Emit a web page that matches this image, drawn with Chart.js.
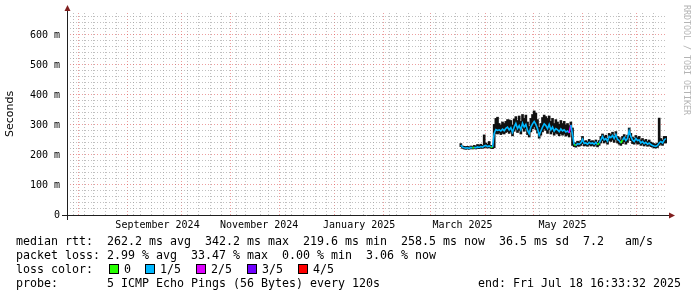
<!DOCTYPE html>
<html><head><meta charset="utf-8">
<script src="https://cdn.jsdelivr.net/npm/chart.js@4.4.1/dist/chart.umd.min.js"></script>
<style>
html,body{margin:0;padding:0;background:#fff;}
#wrap{position:relative;width:697px;height:297px;overflow:hidden;background:#fff;}
#c{position:absolute;left:0;top:0;}
.lg{position:absolute;left:16px;font-family:'DejaVu Sans Mono',monospace;font-size:11.63px;line-height:14px;height:14px;white-space:pre;color:#000;}
.box{position:absolute;width:8px;height:8px;border:1px solid #000;}
.bl{position:absolute;font-family:'DejaVu Sans Mono',monospace;font-size:11.63px;line-height:14px;white-space:pre;color:#000;}
#wm{position:absolute;left:682px;top:5px;writing-mode:vertical-rl;font-family:'DejaVu Sans Mono',monospace;font-size:8.3px;line-height:10px;color:#b4b4b4;white-space:pre;}
</style></head>
<body>
<div id="wrap">
<canvas id="c" width="697" height="297"></canvas>
<div class="lg" style="top:234px">median rtt:  262.2 ms avg  342.2 ms max  219.6 ms min  258.5 ms now  36.5 ms sd  7.2   am/s</div>
<div class="lg" style="top:248px">packet loss: 2.99 % avg  33.47 % max  0.00 % min  3.06 % now</div>
<div class="lg" style="top:262px">loss color:</div>
<div class="lg" style="top:276px">probe:       5 ICMP Echo Pings (56 Bytes) every 120s</div>
<div class="lg" style="top:276px;left:478px">end: Fri Jul 18 16:33:32 2025</div>
<div id="wm">RRDTOOL / TOBI OETIKER</div>
</div>
<script>
// ---- data (one sample per day, starting at dataStart) ----
const dataStart = '2025-03-17';
const medianRtt = [
 233,226,224,223,224,222,225,223,226,224,227,225,228,226,230,232,228,230,227,226,
 272,285,282,284,280,286,281,289,293,284,291,276,293,305,288,298,284,306,293,302,
 282,271,293,304,312,302,288,266,280,293,304,298,288,302,284,293,280,288,284,278,
 287,280,284,277,280,274,300,268,
 235,232,238,236,240,252,238,240,236,242,238,240,236,242,234,240,250,262,250,255,
 246,262,258,265,255,268,252,248,240,250,258,248,255,280,262,250,245,255,248,250,
 240,245,238,242,236,240,235,232,230,229,232,240,245,240,250,255
];
const smokeMin = [
 228,222,220,219,220,219,221,220,222,220,222,221,223,222,224,226,223,225,222,221,
 224,272,270,273,268,272,270,275,278,272,277,264,279,286,275,282,270,289,279,287,
 268,260,277,287,294,285,273,256,266,277,287,282,272,285,270,277,266,273,270,264,
 271,266,270,263,266,260,277,232,
 228,226,230,229,232,238,230,232,229,234,230,232,229,234,227,232,240,248,240,244,
 236,248,245,250,242,252,240,236,232,238,244,236,242,258,248,238,236,242,236,238,
 232,236,230,234,229,232,228,226,224,223,225,232,236,232,240,240
];
const smokeMax = [
 238,230,229,228,229,227,230,228,232,230,235,233,236,232,267,240,236,245,232,231,
 302,322,326,305,300,310,305,312,318,317,315,300,320,328,315,330,312,335,322,333,
 310,295,322,335,347,340,318,292,305,325,333,328,322,330,312,322,305,318,310,302,
 315,305,312,300,305,298,310,290,
 242,240,246,244,248,262,246,248,244,252,246,248,244,250,242,248,262,270,262,266,
 256,272,268,276,265,278,262,258,250,262,268,258,266,290,272,260,255,265,258,262,
 250,255,248,252,245,250,243,240,238,236,240,323,255,250,262,262
];
const lossLevel = [
 1,1,1,1,1,1,1,0,1,1, 1,1,1,1,1,1,1,1,0,1, 1,1,1,1,1,1,1,1,1,1, 1,1,1,1,1,1,1,1,1,1,
 1,1,1,1,1,1,1,1,1,1, 1,1,1,1,1,1,1,1,1,1, 1,1,1,1,1,2,1,1,0,1, 1,1,1,1,1,1,1,1,1,1,
 1,1,0,1,1,1,1,1,1,1, 1,1,1,1,1,1,0,1,1,1, 1,1,1,1,1,1,1,1,1,1, 1,1,1,1,1,1,1,1,1,1,
 1,1,1,1
];
const lossLabels = ['0','1/5','2/5','3/5','4/5'];
const lossColors = ['#26ff00','#00b8ff','#dd00ff','#7000ff','#ff0000'];
const yMajorTicks = [0,100,200,300,400,500,600];
const yMinorTicks = [20,40,60,80,120,140,160,180,220,240,260,280,320,340,360,380,420,440,460,480,520,540,560,580,620,640,660];
const monthGrid = ['2024-08-01','2024-09-01','2024-10-01','2024-11-01','2024-12-01','2025-01-01','2025-02-01','2025-03-01','2025-04-01','2025-05-01','2025-06-01','2025-07-01'];
const monthLabelAt = ['2024-09-16','2024-11-16','2025-01-15','2025-03-18','2025-05-17'];
const monthLabelTexts = ['September 2024','November 2024','January 2025','March 2025','May 2025'];
const endTime = '2025-07-18T16:33:32Z';
const rangeDays = 360;

// ---- helpers ----
const DAY = 86400000;
const END = Date.parse(endTime);
const START = END - rangeDays * DAY;
const dayOf = ms => (ms - START) / DAY;
const d0 = Date.parse(dataStart + 'T00:00:00Z');

const xTicks = [];
let w = Date.parse('2024-07-29T00:00:00Z');
while (w < END) { xTicks.push({value: dayOf(w), kind: 'minor', text: ''}); w += 7 * DAY; }
monthGrid.forEach(s => xTicks.push({value: dayOf(Date.parse(s + 'T00:00:00Z')), kind: 'major', text: ''}));
monthLabelAt.forEach((s, i) => xTicks.push({value: dayOf(Date.parse(s + 'T00:00:00Z')), kind: 'label', text: monthLabelTexts[i]}));
xTicks.sort((a, b) => a.value - b.value);

const yTicks = yMajorTicks.concat(yMinorTicks).sort((a, b) => a - b);

const smokeData = smokeMin.map((lo, i) => ({x: dayOf(d0 + i * DAY), y: [lo, smokeMax[i]]}));
const medData = medianRtt.map((v, i) => ({x: dayOf(d0 + i * DAY), y: v}));

const boxX = [109, 145, 196, 247, 298];
const wrap = document.getElementById('wrap');
lossLabels.forEach((t, i) => {
  const b = document.createElement('div');
  b.className = 'box'; b.style.left = boxX[i] + 'px'; b.style.top = '264px'; b.style.background = lossColors[i];
  wrap.appendChild(b);
  const l = document.createElement('div');
  l.className = 'bl'; l.style.left = (boxX[i] + 15) + 'px'; l.style.top = '262px'; l.textContent = t;
  wrap.appendChild(l);
});

const GRID = 'rgba(150,150,150,0.6)';
const MGRID = 'rgba(222,79,79,0.55)';

const axesPlugin = {
  id: 'rrdAxes',
  afterDatasetsDraw(chart) {
    const {ctx, chartArea: a} = chart;
    ctx.save();
    ctx.strokeStyle = 'rgb(31,31,31)';
    ctx.lineWidth = 1;
    ctx.beginPath();
    ctx.moveTo(a.left - 5, a.bottom + 0.5); ctx.lineTo(a.right + 4, a.bottom + 0.5);
    ctx.moveTo(a.left + 0.5, a.bottom + 5); ctx.lineTo(a.left + 0.5, a.top - 4);
    ctx.stroke();
    ctx.fillStyle = 'rgb(128,31,31)';
    ctx.beginPath();
    ctx.moveTo(a.right + 2, a.bottom - 3 + 0.5); ctx.lineTo(a.right + 8, a.bottom + 0.5); ctx.lineTo(a.right + 2, a.bottom + 3.5);
    ctx.closePath(); ctx.fill();
    ctx.beginPath();
    ctx.moveTo(a.left - 2.5, a.top - 2); ctx.lineTo(a.left + 0.5, a.top - 8); ctx.lineTo(a.left + 3.5, a.top - 2);
    ctx.closePath(); ctx.fill();
    ctx.restore();
  }
};

new Chart(document.getElementById('c'), {
  type: 'line',
  data: {
    datasets: [
      {type: 'line', data: medData, order: 1, borderWidth: 1.6, pointRadius: 0, tension: 0,
       borderColor: lossColors[1],
       segment: {borderColor: c => lossColors[lossLevel[c.p0DataIndex]]}},
      {type: 'bar', data: smokeData, order: 2, backgroundColor: '#111', borderWidth: 0,
       barThickness: 2, grouped: false}
    ]
  },
  options: {
    responsive: false, animation: false, devicePixelRatio: 1,
    layout: {padding: {left: 0, top: 13, right: 30, bottom: 0}},
    plugins: {legend: {display: false}, tooltip: {enabled: false}},
    scales: {
      x: {
        type: 'linear', min: 0, max: rangeDays, offset: false,
        afterBuildTicks: s => { s.ticks = xTicks.map(t => ({value: t.value, kind: t.kind, text: t.text})); },
        afterFit: s => { s.height = 82; },
        ticks: {autoSkip: false, maxRotation: 0, minRotation: 0, padding: 4, color: '#000',
          font: {family: 'DejaVu Sans Mono', size: 10},
          callback: (v, i, ticks) => ticks[i].text || ''},
        grid: {drawTicks: false, lineWidth: 1,
          color: c => c.tick && c.tick.kind === 'major' ? MGRID : (c.tick && c.tick.kind === 'minor' ? GRID : 'rgba(0,0,0,0)')},
        border: {display: false, dash: [1, 2]}
      },
      y: {
        type: 'linear', min: 0, max: 673.3,
        afterBuildTicks: s => { s.ticks = yTicks.map(v => ({value: v})); },
        afterFit: s => { s.width = 67; },
        ticks: {autoSkip: false, padding: 7, color: '#000',
          font: {family: 'DejaVu Sans Mono', size: 10},
          callback: v => (v % 100 === 0 ? (v === 0 ? '0' : v + ' m') : '')},
        grid: {drawTicks: false, lineWidth: 1, color: c => (c.tick && c.tick.value % 100 === 0) ? MGRID : GRID},
        border: {display: false, dash: [1, 2]},
        title: {display: true, text: 'Seconds', color: '#000', font: {family: 'DejaVu Sans', size: 11}, padding: {top: 4, bottom: 0}}
      }
    }
  },
  plugins: [axesPlugin]
});
</script>
</body></html>
